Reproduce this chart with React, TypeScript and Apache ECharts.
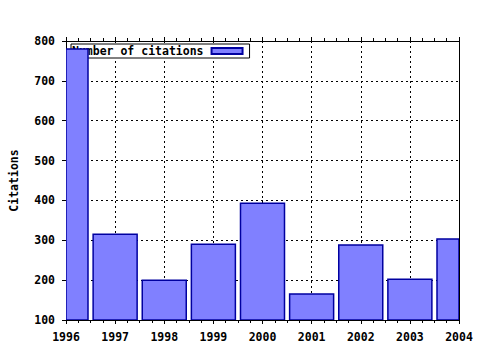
import React, { useEffect, useRef } from "react";
import * as echarts from "echarts";

const years = [1996, 1997, 1998, 1999, 2000, 2001, 2002, 2003, 2004];
const citations = [780, 315, 200, 290, 393, 165, 288, 202, 303];
const seriesName = "Number of citations";
const yAxisName = "Citations";
const baseValue = 100;

const FONT = "'DejaVu Sans Mono', 'Liberation Mono', monospace";
const BAR_W = 44;

export default function App() {
  const ref = useRef<HTMLDivElement>(null);
  useEffect(() => {
    if (!ref.current) return;
    const chart = echarts.init(ref.current, null, { renderer: "svg" });
    const labelStyle = {
      fontFamily: FONT,
      fontWeight: "bold" as const,
      fontSize: 11.5,
      color: "#000",
    };
    const gridLine = {
      show: true,
      lineStyle: { color: "#000", width: 1, type: [2, 3] as number[] },
    };
    chart.setOption({
      animation: false,
      backgroundColor: "#fff",
      grid: { left: 65, right: 21, top: 41, bottom: 30, containLabel: false },
      legend: {
        show: true,
        left: 71,
        top: 44,
        z: 1,
        align: "right",
        itemWidth: 31,
        itemHeight: 6,
        itemGap: 0,
        padding: [1, 6, 1, 1],
        borderColor: "#000",
        borderWidth: 1,
        backgroundColor: "#fff",
        textStyle: { ...labelStyle, lineHeight: 12, padding: [0, 3, 0, 0] },
        data: [{ name: seriesName, icon: "rect" }],
      },
      xAxis: [
        {
          type: "value",
          position: "bottom",
          min: 1996,
          max: 2004,
          interval: 1,
          axisLine: { show: true, onZero: false, lineStyle: { color: "#000", width: 1 } },
          axisTick: { show: true, inside: false, length: 4, lineStyle: { color: "#000" } },
          minorTick: { show: true, splitNumber: 4, length: 3, lineStyle: { color: "#000" } },
          splitLine: gridLine,
          axisLabel: { ...labelStyle, margin: 11, formatter: (v: number) => String(v) },
        },
        {
          type: "value",
          position: "top",
          min: 1996,
          max: 2004,
          interval: 1,
          axisLine: { show: true, onZero: false, lineStyle: { color: "#000", width: 1 } },
          axisTick: { show: true, inside: false, length: 4, lineStyle: { color: "#000" } },
          minorTick: { show: true, splitNumber: 4, length: 3, lineStyle: { color: "#000" } },
          splitLine: { show: false },
          axisLabel: { show: false },
        },
      ],
      yAxis: [
        {
          type: "value",
          position: "left",
          min: 100,
          max: 800,
          interval: 100,
          name: yAxisName,
          nameLocation: "middle",
          nameGap: 46,
          nameTextStyle: { ...labelStyle },
          axisLine: { show: true, onZero: false, lineStyle: { color: "#000", width: 1 } },
          axisTick: { show: true, inside: false, length: 4, lineStyle: { color: "#000" } },
          splitLine: gridLine,
          axisLabel: { ...labelStyle, margin: 11 },
        },
        {
          type: "value",
          position: "right",
          min: 100,
          max: 800,
          interval: 100,
          axisLine: { show: true, onZero: false, lineStyle: { color: "#000", width: 1 } },
          axisTick: { show: false },
          splitLine: { show: false },
          axisLabel: { show: false },
        },
      ],
      series: [
        {
          name: seriesName,
          type: "custom",
          xAxisIndex: 0,
          yAxisIndex: 0,
          z: 2,
          clip: true,
          itemStyle: { color: "#8080ff", borderColor: "#0000a0", borderWidth: 1.5 },
          encode: { x: 0, y: 1 },
          renderItem: (params: any, api: any) => {
            const top = api.coord([api.value(0), api.value(1)]);
            const base = api.coord([api.value(0), baseValue]);
            const cs = params.coordSys;
            const rect = echarts.graphic.clipRectByRect(
              { x: top[0] - BAR_W / 2, y: top[1], width: BAR_W, height: base[1] - top[1] },
              { x: cs.x, y: cs.y, width: cs.width, height: cs.height }
            );
            if (!rect) return null;
            return {
              type: "rect",
              shape: rect,
              style: { fill: "#8080ff", stroke: "#0000a0", lineWidth: 1.5 },
            };
          },
          data: years.map((y, i) => [y, citations[i]]),
        },
      ],
    });
    return () => chart.dispose();
  }, []);
  return (
    <div
      ref={ref}
      style={{ position: "fixed", left: 0, top: 0, width: 480, height: 350 }}
    />
  );
}
